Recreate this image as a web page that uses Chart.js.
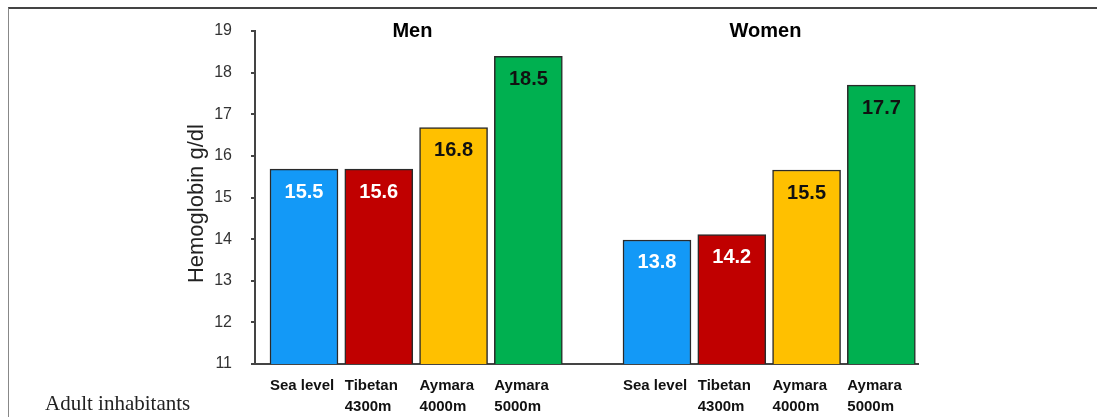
<!DOCTYPE html>
<html>
<head>
<meta charset="utf-8">
<script src="https://cdn.jsdelivr.net/npm/chart.js@4/dist/chart.umd.min.js"></script>
<style>
  html, body { margin: 0; padding: 0; background: #fff; }
  #wrap { position: relative; width: 1097px; height: 417px; overflow: hidden; }
  #frame { position: absolute; left: 8px; top: 7px; width: 1095px; height: 420px;
           border-top: 2px solid #444; border-left: 1px solid #888; box-sizing: border-box; }
  #note { position: absolute; left: 45px; top: 393px; font-family: 'Liberation Serif', 'Times New Roman', serif;
          font-size: 21px; line-height: 21px; color: #222; white-space: nowrap; }
  canvas { position: absolute; left: 0; top: 0; }
</style>
</head>
<body>
<div id="wrap">
  <div id="frame"></div>
  <canvas id="c" width="1097" height="417"></canvas>
  <div id="note">Adult inhabitants</div>
</div>
<script>
// ---- data ----
const groups = ['Men', 'Women'];
const categories = [['Sea level'], ['Tibetan', '4300m'], ['Aymara', '4000m'], ['Aymara', '5000m']];
const menValues = [15.68, 15.68, 16.68, 18.39];
const womenValues = [13.98, 14.11, 15.66, 17.70];
const menLabels = ['15.5', '15.6', '16.8', '18.5'];
const womenLabels = ['13.8', '14.2', '15.5', '17.7'];
const yTickValues = [11, 12, 13, 14, 15, 16, 17, 18, 19];
const yTitle = 'Hemoglobin g/dl';

// ---- styles ----
const barColors = ['#1399F7', '#C00000', '#FFC000', '#00B050'];
const labelColors = ['#ffffff', '#ffffff', '#111111', '#111111'];
const GROUP_GAP = 0.72;   // extra space between the two groups (in category units)
const HALF_BAR = 0.455;   // half bar width in category units (for left-aligned labels)

const groupValues = [menValues, womenValues];
const groupLabels = [menLabels, womenLabels];
const n = categories.length;
const xOf = (g, i) => g * (n + GROUP_GAP) + i;

const points = [], colors = [], valueLabels = [], valueLabelColors = [], tickPos = [], tickText = [];
groups.forEach((g, gi) => {
  groupValues[gi].forEach((v, i) => {
    points.push({ x: xOf(gi, i), y: v });
    colors.push(barColors[i]);
    valueLabels.push(groupLabels[gi][i]);
    valueLabelColors.push(labelColors[i]);
    tickPos.push(xOf(gi, i) - HALF_BAR);
    tickText.push(categories[i]);
  });
});
const groupCenters = groups.map((g, gi) => xOf(gi, (n - 1) / 2) - 0.05);

const X_MIN = -0.655, X_MAX = 8.21;

const labelPlugin = {
  id: 'labels',
  afterDatasetsDraw(chart) {
    const ctx = chart.ctx;
    const meta = chart.getDatasetMeta(0);
    ctx.save();
    ctx.font = 'bold 20px "Liberation Sans", Arial, sans-serif';
    ctx.textAlign = 'center';
    ctx.textBaseline = 'middle';
    meta.data.forEach((bar, i) => {
      ctx.fillStyle = valueLabelColors[i];
      ctx.fillText(valueLabels[i], bar.x, bar.y + 23);
    });
    // group titles
    const xs = chart.scales.x;
    ctx.fillStyle = '#000';
    ctx.font = 'bold 20px "Liberation Sans", Arial, sans-serif';
    groups.forEach((g, gi) => {
      ctx.fillText(g, xs.getPixelForValue(groupCenters[gi]), chart.chartArea.top);
    });
    ctx.restore();
  }
};

new Chart(document.getElementById('c'), {
  type: 'bar',
  data: {
    datasets: [{
      data: points,
      backgroundColor: colors,
      borderColor: '#2a2a2a',
      borderWidth: 1.5,
      borderSkipped: 'bottom',
      barThickness: 68
    }]
  },
  options: {
    responsive: false,
    animation: false,
    devicePixelRatio: 1,
    layout: { padding: { left: 184, right: 179, top: 31, bottom: 0 } },
    plugins: { legend: { display: false }, tooltip: { enabled: false }, title: { display: false } },
    scales: {
      x: {
        type: 'linear',
        position: 'bottom',
        offset: false,
        min: X_MIN, max: X_MAX,
        afterBuildTicks: (s) => { s.ticks = tickPos.map(v => ({ value: v })); },
        afterFit: (s) => { s.height = 53; },
        grid: { display: false, drawTicks: false },
        border: { display: true, color: '#444', width: 2 },
        ticks: {
          autoSkip: false, maxRotation: 0, minRotation: 0,
          align: 'start', padding: 12,
          color: '#111',
          font: { family: '"Liberation Sans", Arial, sans-serif', size: 15, weight: 'bold', lineHeight: 1.37 },
          callback: (v, i) => tickText[i]
        }
      },
      y: {
        type: 'linear',
        min: yTickValues[0], max: yTickValues[yTickValues.length - 1],
        afterBuildTicks: (s) => { s.ticks = yTickValues.map(v => ({ value: v })); },
        afterFit: (s) => { s.width = 71; },
        grid: { drawOnChartArea: false, drawTicks: true, tickLength: 4, color: '#444', lineWidth: 2 },
        border: { display: true, color: '#444', width: 2 },
        ticks: {
          padding: 19,
          color: '#333',
          font: { family: '"Liberation Sans", Arial, sans-serif', size: 16 }
        },
        title: {
          display: true,
          text: yTitle + '  ',
          color: '#222',
          padding: 0,
          font: { family: '"Liberation Sans", Arial, sans-serif', size: 22 }
        }
      }
    }
  },
  plugins: [labelPlugin]
});
</script>
</body>
</html>
